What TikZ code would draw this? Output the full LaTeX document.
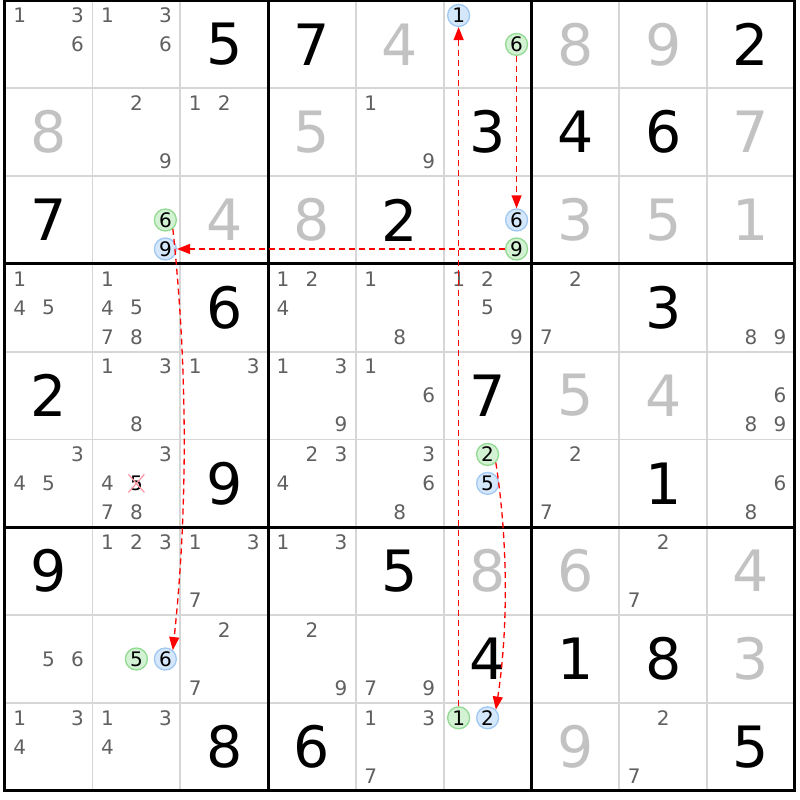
\documentclass[tikz,border=0pt]{standalone}
\usepackage{fontspec}
\setmainfont{DejaVu Sans}
\usetikzlibrary{arrows.meta,shapes.misc}

\definecolor{solvedcol}{RGB}{194,194,194}
\definecolor{candcol}{RGB}{96,96,96}
\definecolor{thincol}{RGB}{214,214,214}
\definecolor{onfill}{RGB}{213,231,251}
\definecolor{ondraw}{RGB}{160,200,242}
\definecolor{offfill}{RGB}{211,242,211}
\definecolor{offdraw}{RGB}{146,218,146}
\definecolor{xpink}{RGB}{255,150,160}

\tikzset{
  given/.style={font=\fontsize{57}{57}\selectfont, text=black, inner sep=0pt},
  solved/.style={given, text=solvedcol},
  cand/.style={font=\fontsize{20}{20}\selectfont, text=candcol, inner sep=0pt},
  candon/.style={cand, text=black, circle, draw=ondraw, fill=onfill, line width=1.3pt, minimum size=22pt},
  candoff/.style={candon, draw=offdraw, fill=offfill},
  crossed/.style={cand, text=black, cross out, draw=xpink, line width=1.2pt, inner sep=1pt},
  link/.style={->, red, line width=1.3pt, dash pattern=on 6pt off 4pt},
  thin line/.style={thincol, line width=1.8pt},
  box line/.style={black, line width=3pt}
}

\begin{document}
\begin{tikzpicture}[x=87.8pt, y=-87.8pt, >={Triangle[length=13pt,width=10pt]}]
    \useasboundingbox (-0.0535,-0.0057) rectangle (9.058,9.106);

    \foreach \i in {1,2,4,5,7,8} {
        \draw[thin line] (\i,0) -- (\i,9);
        \draw[thin line] (0,\i) -- (9,\i);
    }
    \foreach \i in {3,6} {
        \draw[box line] (\i,0) -- (\i,9);
        \draw[box line] (0,\i) -- (9,\i);
    }
    \draw[box line] (0,0) rectangle (9,9);

    \foreach \r/\c/\v in {1/3/5, 1/4/7, 1/9/2, 2/6/3, 2/7/4, 2/8/6, 3/1/7, 3/5/2, 4/3/6, 4/8/3, 5/1/2,
                          5/6/7, 6/3/9, 6/8/1, 7/1/9, 7/5/5, 8/6/4, 8/7/1, 8/8/8, 9/3/8, 9/4/6, 9/9/5}
        \node[given] (v\r\c) at (\c-.5,\r-.5) {\v};
    \foreach \r/\c/\v in {1/5/4, 1/7/8, 1/8/9, 2/1/8, 2/4/5, 2/9/7, 3/3/4, 3/4/8, 3/7/3, 3/8/5, 3/9/1,
                          5/7/5, 5/8/4, 7/6/8, 7/7/6, 7/9/4, 8/9/3, 9/7/9}
        \node[solved] (v\r\c) at (\c-.5,\r-.5) {\v};

    \foreach \r/\c/\ds in {1/1/{1,3,6}, 1/2/{1,3,6}, 2/2/{2,9}, 2/3/{1,2}, 2/5/{1,9},
                           4/1/{1,4,5}, 4/2/{1,4,5,7,8}, 4/4/{1,2,4}, 4/5/{1,8}, 4/6/{1,2,5,9}, 4/7/{2,7}, 4/9/{8,9},
                           5/2/{1,3,8}, 5/3/{1,3}, 5/4/{1,3,9}, 5/5/{1,6}, 5/9/{6,8,9},
                           6/1/{3,4,5}, 6/2/{3,4,7,8}, 6/4/{2,3,4}, 6/5/{3,6,8}, 6/7/{2,7}, 6/9/{6,8},
                           7/2/{1,2,3}, 7/3/{1,3,7}, 7/4/{1,3}, 7/8/{2,7},
                           8/1/{5,6}, 8/3/{2,7}, 8/4/{2,9}, 8/5/{7,9},
                           9/1/{1,3,4}, 9/2/{1,3,4}, 9/5/{1,3,7}, 9/8/{2,7}}
        \foreach \d in \ds {
            \pgfmathsetmacro\px{\c-.5+.33*(mod(\d-1,3)-1)}
            \pgfmathsetmacro\py{\r-.5+.33*(div(\d-1,3)-1)}
            \node[cand] (p\r\c\d) at (\px,\py) {\d};
        }

    \node[candon] (r1c6-1) at (5.17,0.17) {1};
    \node[candoff] (r1c6-6) at (5.83,0.5) {6};
    \node[candon] (r3c6-6) at (5.83,2.5) {6};
    \node[candoff] (r3c6-9) at (5.83,2.83) {9};
    \node[candoff] (r3c2-6) at (1.83,2.5) {6};
    \node[candon] (r3c2-9) at (1.83,2.83) {9};
    \node[candoff] (r6c6-2) at (5.5,5.17) {2};
    \node[candon] (r6c6-5) at (5.5,5.5) {5};
    \node[candoff] (r8c2-5) at (1.5,7.5) {5};
    \node[candon] (r8c2-6) at (1.83,7.5) {6};
    \node[candoff] (r9c6-1) at (5.17,8.17) {1};
    \node[candon] (r9c6-2) at (5.5,8.17) {2};
    \node[crossed] (r6c2-5) at (1.5,5.5) {5};

    \draw[link] (r9c6-1) -- (r1c6-1);
    \draw[link] (r1c6-6) -- (r3c6-6);
    \draw[link] (r3c6-9) -- (r3c2-9);
    \draw[link] (r3c2-6.-50) .. controls +(0.17,1.6) and +(0.17,-1.6) .. (r8c2-6.50);
    \draw[link] (r6c6-2.-45) .. controls +(0.14,0.9) and +(0.14,-0.9) .. (r9c6-2.45);
\end{tikzpicture}
\end{document}
